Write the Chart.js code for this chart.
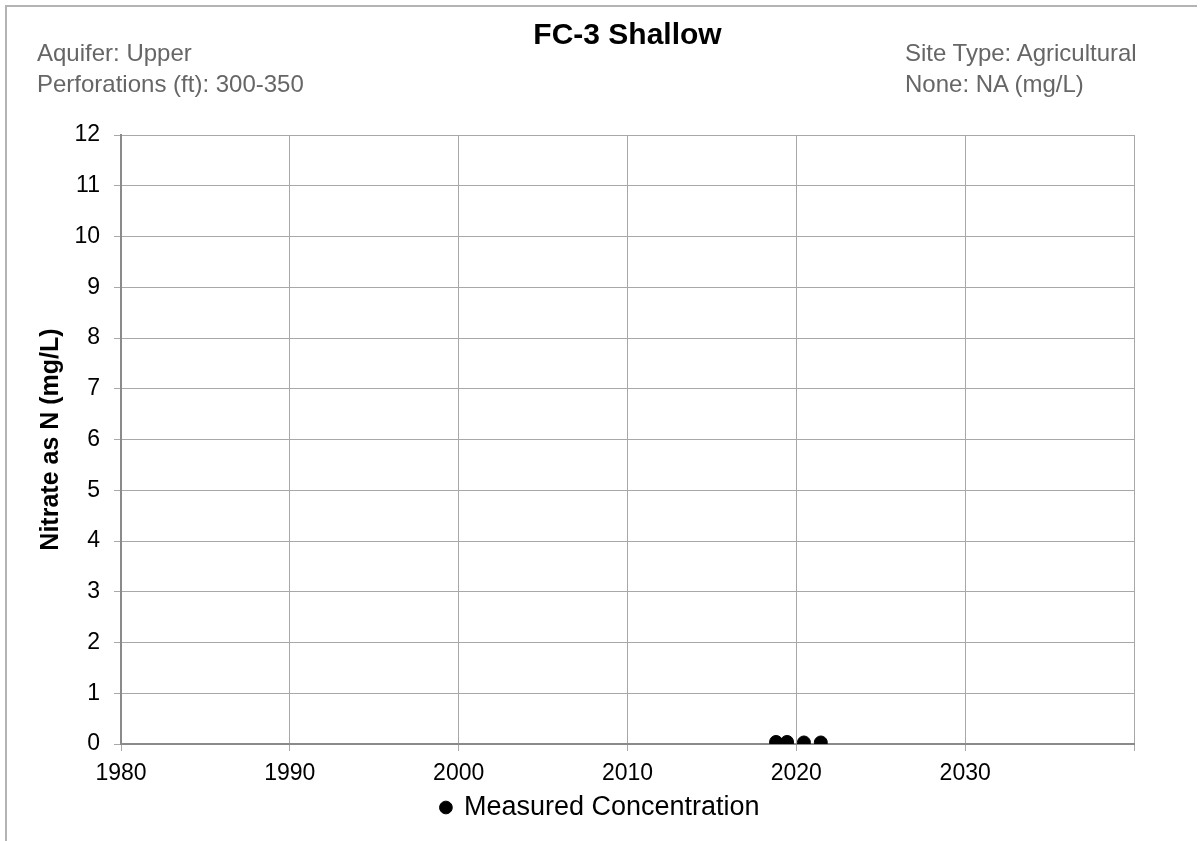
<!DOCTYPE html>
<html lang="en">
<head>
    <meta charset="UTF-8">
    <title>FC-3 Shallow</title>
    <script src="https://cdn.jsdelivr.net/npm/chart.js"></script>
    <style>
        body {
            margin: 0;
            background: #fff;
            font-family: "Liberation Sans", Arial, sans-serif;
        }
        #wrap {
            position: relative;
            width: 1201px;
            height: 841px;
            overflow: hidden;
        }
        #frame {
            position: absolute;
            left: 5px;
            top: 5px;
            width: 1190px;
            height: 850px;
            border-left: 2px solid #b4b4b4;
            border-top: 2px solid #b4b4b4;
        }
        .info {
            position: absolute;
            color: #666;
            font-size: 24px;
            line-height: 31px;
        }
        canvas {
            position: absolute;
            left: 0;
            top: 0;
        }
    </style>
</head>
<body>
<div id="wrap">
    <div id="frame"></div>
    <canvas id="nitrateChart" width="1201" height="841"></canvas>
    <div class="info" style="left:37px; top:37px;">Aquifer: Upper<br>Perforations (ft): 300-350</div>
    <div class="info" style="left:905px; top:37px;">Site Type: Agricultural<br>None: NA (mg/L)</div>
</div>
<script>
    // sample dates (decimal years) and nitrate as N (mg/L)
    const sampleYears = [2018.8, 2019.45, 2020.45, 2021.45];
    const nitrateValues = [0.04, 0.04, 0.03, 0.03];

    const xMin = 1980, xMax = 2040, xStep = 10;
    const yMin = 0, yMax = 12, yStep = 1;

    const points = sampleYears.map((yr, i) => ({ x: yr, y: nitrateValues[i] }));

    const gridColor = '#a8a8a8';
    const axisColor = '#8a8a8a';
    const font = '"Liberation Sans", Arial, sans-serif';

    new Chart(document.getElementById('nitrateChart'), {
        type: 'scatter',
        data: {
            datasets: [{
                label: 'Measured Concentration',
                data: points,
                backgroundColor: '#000',
                borderColor: '#000',
                pointRadius: 6.5,
                pointHoverRadius: 6.5,
                showLine: false
            }]
        },
        options: {
            responsive: false,
            animation: false,
            layout: { padding: { left: 0, right: 0, top: 0, bottom: 10 } },
            plugins: {
                tooltip: { enabled: false },
                title: {
                    display: true,
                    fullSize: false,
                    text: 'FC-3 Shallow',
                    color: '#000',
                    font: { family: font, size: 30, weight: 'bold' },
                    padding: { top: 18, bottom: 81 }
                },
                legend: {
                    position: 'bottom',
                    labels: {
                        color: '#000',
                        font: { family: font, size: 27 },
                        usePointStyle: true,
                        pointStyle: 'circle',
                        boxHeight: 9,
                        boxWidth: 9,
                        padding: 6
                    }
                }
            },
            scales: {
                x: {
                    type: 'linear',
                    min: xMin,
                    max: xMax,
                    afterFit: s => { s.height = 44; },
                    ticks: {
                        stepSize: xStep,
                        color: '#000',
                        font: { family: font, size: 23 },
                        padding: 9,
                        maxRotation: 0,
                        callback: v => (v === xMax ? '' : v)
                    },
                    grid: { color: gridColor, lineWidth: 1, tickLength: 7 },
                    border: { color: axisColor, width: 2 }
                },
                y: {
                    min: yMin,
                    max: yMax,
                    afterFit: s => { s.width = 121; },
                    ticks: {
                        stepSize: yStep,
                        color: '#000',
                        font: { family: font, size: 23 },
                        padding: 14
                    },
                    grid: { color: gridColor, lineWidth: 1, tickLength: 7 },
                    border: { color: axisColor, width: 2 },
                    title: {
                        display: true,
                        text: 'Nitrate as N (mg/L)',
                        color: '#000',
                        font: { family: font, size: 25, weight: 'bold' },
                        padding: { top: 36 }
                    }
                },
                // empty right-hand strip so the plot ends at the same place as the original
                yRight: {
                    position: 'right',
                    min: yMin,
                    max: yMax,
                    afterFit: s => { s.width = 67; },
                    ticks: { display: false },
                    grid: { display: false },
                    border: { display: false }
                }
            }
        }
    });
</script>
</body>
</html>
